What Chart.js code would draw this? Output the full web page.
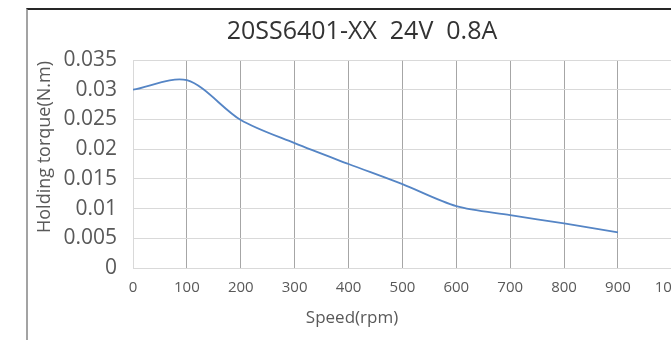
<!DOCTYPE html>
<html>
<head>
<meta charset="UTF-8">
<title>20SS6401-XX 24V 0.8A</title>
<script src="https://cdn.jsdelivr.net/npm/chart.js"></script>
<style>
    html, body { margin: 0; padding: 0; background: #fff; width: 671px; height: 340px; overflow: hidden; }
    #frame {
        position: absolute; left: 26px; top: 8px; width: 700px; height: 400px;
        border-left: 2px solid #a3a3a3; border-top: 2px solid #262626;
    }
    #chart { position: absolute; left: 0; top: 0; }
</style>
</head>
<body>
<div id="frame"></div>
<canvas id="chart" width="700" height="340"></canvas>
<script>
    // values
    const speeds = [0, 100, 200, 300, 400, 500, 600, 700, 800, 900];
    const torque = [0.0300, 0.0316, 0.0249, 0.0210, 0.0175, 0.0141, 0.0104, 0.0089, 0.0075, 0.0060];
    const yTickLabels = ['0', '0.005', '0.01', '0.015', '0.02', '0.025', '0.03', '0.035'];
    const chartTitle = '20SS6401-XX  24V  0.8A';
    const xTitle = 'Speed(rpm)';
    const yTitle = 'Holding torque(N.m)';

    const FONT = '"Open Sans", "Noto Sans", sans-serif';

    // titles are placed off-centre in the original, so draw them by hand
    const titlesPlugin = {
        id: 'titles',
        afterDraw(chart) {
            const ctx = chart.ctx;
            ctx.save();
            ctx.fillStyle = '#333';
            ctx.textAlign = 'center';
            ctx.textBaseline = 'middle';
            ctx.font = '25px ' + FONT;
            ctx.fillText(chartTitle, 362, 32);
            ctx.fillStyle = '#595959';
            ctx.font = '17px ' + FONT;
            ctx.fillText(xTitle, 352, 318);
            ctx.translate(45, 147);
            ctx.rotate(-Math.PI / 2);
            ctx.font = '18px ' + FONT;
            ctx.fillText(yTitle, 0, 0);
            ctx.restore();
        }
    };

    const ctx = document.getElementById('chart').getContext('2d');
    const chart = new Chart(ctx, {
        type: 'line',
        data: {
            datasets: [{
                data: speeds.map((s, i) => ({ x: s, y: torque[i] })),
                borderColor: '#5585c5',
                borderWidth: 1.8,
                pointRadius: 0,
                tension: 0.3,
                fill: false
            }]
        },
        options: {
            responsive: false,
            animation: false,
            layout: { padding: { top: 60, right: 28, left: 0, bottom: 0 } },
            plugins: {
                legend: { display: false },
                tooltip: { enabled: false }
            },
            scales: {
                x: {
                    type: 'linear',
                    min: 0,
                    max: 1000,
                    border: { display: false },
                    grid: {
                        drawTicks: false,
                        color: c => (c.index === 0 || c.index === 10) ? '#d9d9d9' : '#a6a6a6'
                    },
                    ticks: {
                        stepSize: 100,
                        padding: 11,
                        color: '#595959',
                        font: { family: FONT, size: 15 },
                        maxRotation: 0,
                        callback: v => String(v)
                    },
                    afterFit: s => { s.height = 72; }
                },
                y: {
                    min: 0,
                    max: 0.035,
                    border: { display: false },
                    grid: { drawTicks: false, color: '#d9d9d9' },
                    ticks: {
                        stepSize: 0.005,
                        padding: 16,
                        color: '#595959',
                        font: { family: FONT, size: 21 },
                        callback: (v, i) => yTickLabels[i]
                    },
                    afterFit: s => { s.width = 133; }
                }
            }
        },
        plugins: [titlesPlugin]
    });
</script>
</body>
</html>
